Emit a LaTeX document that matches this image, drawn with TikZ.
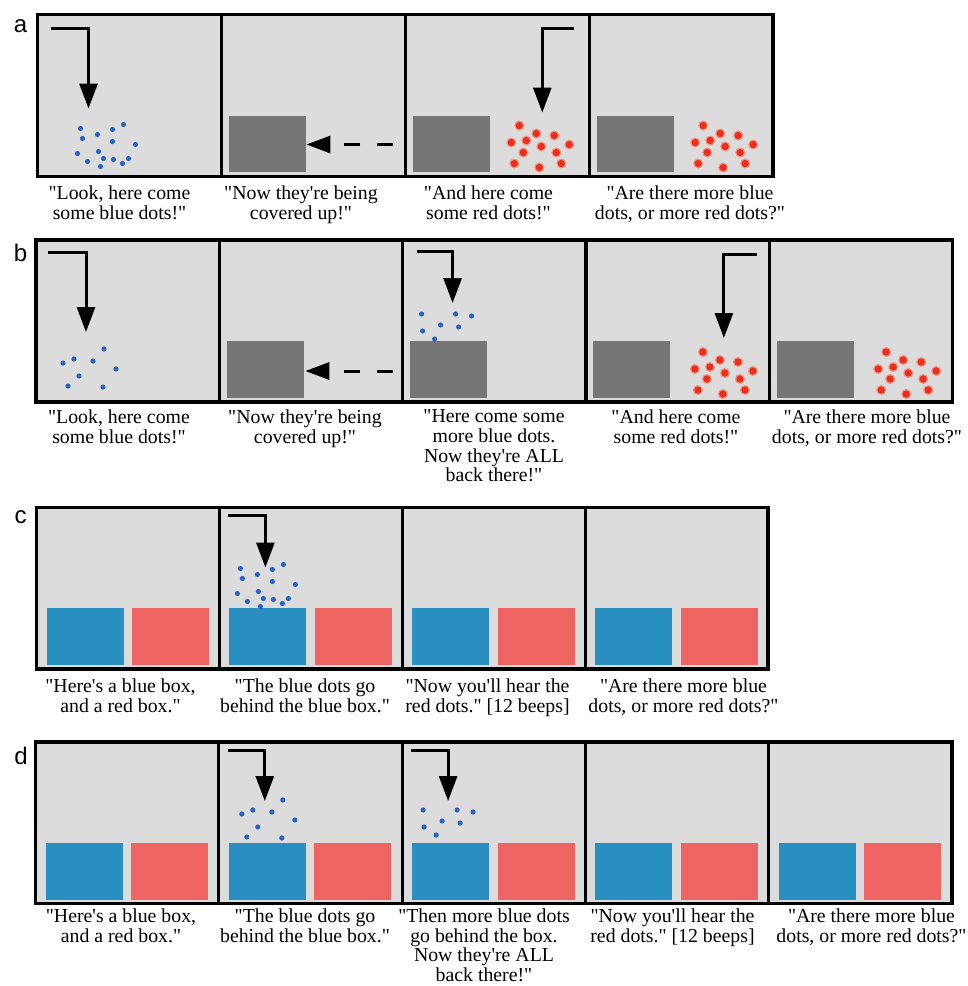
\documentclass[tikz,border=0pt]{standalone}
\usepackage{fontspec}
\setmainfont{Liberation Serif}[Ligatures=TeXOff]
\newfontfamily\labfont{Liberation Sans}
\usetikzlibrary{arrows.meta}
\definecolor{panelgrey}{HTML}{DCDCDC}
\definecolor{coverbox}{HTML}{767676}
\definecolor{bluebox}{HTML}{288FC0}
\definecolor{redbox}{HTML}{EE6462}
\definecolor{bluedot}{HTML}{2A62C2}
\definecolor{reddot}{HTML}{EC2C1C}
\definecolor{redhalo}{HTML}{F2907E}
\tikzset{
  frame/.style={draw=black, line width=3.5pt},
  divider/.style={black, line width=3.2pt},
  cover/.style={fill=coverbox},
  bbox/.style={fill=bluebox},
  rbox/.style={fill=redbox},
  droparrow/.style={line width=3pt, line join=miter, -{Triangle[length=25pt,width=18pt]}},
  slidearrow/.style={line width=3pt, dash pattern=on 16pt off 17pt, -{Triangle[length=24pt,width=17pt]}},
  caption/.style={anchor=north, align=center, inner sep=0pt, font=\fontsize{19.8}{19.7}\selectfont},
  rowlabel/.style={anchor=base, inner sep=0pt, font=\labfont\fontsize{24}{24}\selectfont},
}
\newcommand\bluefifteen[2]{%
  \foreach \u/\v in {43/114,86/110,75/115,45/124,60/120,75/127,98/130,40/139,61/137,66/144,76/145,91/144,85/149,50/147,63/152}
    \fill[bluedot] ({\u+#1},{\v+#2}) circle (2.6pt);}
\newcommand\blueeight[2]{%
  \foreach \u/\v in {68/109,27/123,38/119,57/121,80/129,43/136,32/146,67/147}
    \fill[bluedot] ({\u+#1},{\v+#2}) circle (2.6pt);}
\newcommand\blueseven[2]{%
  \foreach \u/\v in {19/74,53/74,69/76,38/85,56/87,20/91,32/99}
    \fill[bluedot] ({\u+#1},{\v+#2}) circle (2.6pt);}
\newcommand\redtwelve[2]{%
  \foreach \u/\v in {114/111,131/119,149/121,106/128,121/126,136/132,164/130,118/138,151/138,109/149,134/153,156/149}{
    \fill[redhalo] ({\u+#1},{\v+#2}) circle (5pt);
    \fill[reddot] ({\u+#1},{\v+#2}) circle (3.6pt);}}
\newcommand\coverbox{\fill[cover] (7.5,101) rectangle (84.5,157.5);}
\newcommand\twoboxes{\fill[bbox] (10,100.5) rectangle (87,157.5);
  \fill[rbox] (95.5,100.5) rectangle (172.5,157.5);}
\begin{document}
\begin{tikzpicture}[x=1pt,y=-1pt]
\path[use as bounding box, fill=white] (0,0) rectangle (968,986);
% panel backgrounds
\fill[panelgrey] (37.5,14.5) rectangle (773.1,176.5);
\fill[panelgrey] (36,240) rectangle (952.5,402);
\fill[panelgrey] (36.5,507.5) rectangle (768.1,669);
\fill[panelgrey] (35.5,742) rectangle (952,903.5);
% ---------- row a ----------
\begin{scope}[shift={(37.5,14.5)}]
  \bluefifteen{0}{0}
  \draw[droparrow] (13,14) -- (51,14) -- (51,94);
\end{scope}
\begin{scope}[shift={(221.4,14.5)}]
  \coverbox
  \draw[slidearrow] (172,130) -- (85,130);
\end{scope}
\begin{scope}[shift={(405.3,14.5)}]
  \coverbox
  \redtwelve{0}{0}
  \draw[droparrow] (169,14) -- (137,14) -- (137,98);
\end{scope}
\begin{scope}[shift={(589.2,14.5)}]
  \coverbox
  \redtwelve{0}{0}
\end{scope}
% ---------- row b ----------
\begin{scope}[shift={(36,240)}]
  \blueeight{0}{0}
  \draw[droparrow] (12,12) -- (50,12) -- (50,92);
\end{scope}
\begin{scope}[shift={(219.3,240)}]
  \coverbox
  \draw[slidearrow] (174,131) -- (86,131);
\end{scope}
\begin{scope}[shift={(402.6,240)}]
  \coverbox
  \blueseven{0}{0}
  \draw[droparrow] (14,11) -- (50,11) -- (50,63);
\end{scope}
\begin{scope}[shift={(585.9,240)}]
  \coverbox
  \redtwelve{3}{1}
  \draw[droparrow] (171,14) -- (138,14) -- (138,98);
\end{scope}
\begin{scope}[shift={(769.2,240)}]
  \coverbox
  \redtwelve{3}{1}
\end{scope}
% ---------- row c ----------
\begin{scope}[shift={(36.5,507.5)}]
  \twoboxes
\end{scope}
\begin{scope}[shift={(219.4,507.5)}]
  \twoboxes
  \bluefifteen{-22}{-53}
  \draw[droparrow] (9,8) -- (46,8) -- (46,60);
\end{scope}
\begin{scope}[shift={(402.3,507.5)}]
  \twoboxes
\end{scope}
\begin{scope}[shift={(585.2,507.5)}]
  \twoboxes
\end{scope}
% ---------- row d ----------
\begin{scope}[shift={(35.5,742)}]
  \twoboxes
\end{scope}
\begin{scope}[shift={(218.8,742)}]
  \twoboxes
  \blueeight{-4}{-51}
  \draw[droparrow] (9,8) -- (46,8) -- (46,59);
\end{scope}
\begin{scope}[shift={(402.1,742)}]
  \twoboxes
  \blueseven{2}{-6}
  \draw[droparrow] (9,8) -- (46,8) -- (46,59);
\end{scope}
\begin{scope}[shift={(585.4,742)}]
  \twoboxes
\end{scope}
\begin{scope}[shift={(768.7,742)}]
  \twoboxes
\end{scope}
% ---------- frames ----------
\draw[frame] (37.5,14.5) rectangle (773.1,176.5);
\foreach \d in {221.4,405.3,589.2} \draw[divider] (\d,14.5) -- (\d,176.5);
\draw[frame] (36,240) rectangle (952.5,402);
\foreach \d in {219.3,402.6,585.9,769.2} \draw[divider] (\d,240) -- (\d,402);
\draw[frame] (36.5,507.5) rectangle (768.1,669);
\foreach \d in {219.4,402.3,585.2} \draw[divider] (\d,507.5) -- (\d,669);
\draw[frame] (35.5,742) rectangle (952,903.5);
\foreach \d in {218.8,402.1,585.4,768.7} \draw[divider] (\d,742) -- (\d,903.5);
% ---------- row labels ----------
\node[rowlabel] (laba) at (20.5,32) {a};
\node[rowlabel] (labb) at (20.5,261) {b};
\node[rowlabel] (labc) at (20.5,523) {c};
\node[rowlabel] (labd) at (21,764) {d};
% ---------- captions ----------
\node[caption] (capa1) at (119.5,185.5) {"Look, here come\\some blue dots!"};
\node[caption] (capa2) at (301,185.5) {"Now they're being\\covered up!"};
\node[caption] (capa3) at (488.5,185.5) {"And here come\\some red dots!"};
\node[caption] (capa4) at (690,185.5) {"Are there more blue\\dots, or more red dots?"};
\node[caption] (capb1) at (119,409.5) {"Look, here come\\some blue dots!"};
\node[caption] (capb2) at (305,409.5) {"Now they're being\\covered up!"};
\node[caption] (capb3) at (494,409.5) {"Here come some\\more blue dots.\\Now they're ALL\\back there!"};
\node[caption] (capb4) at (676,409.5) {"And here come\\some red dots!"};
\node[caption] (capb5) at (867,409.5) {"Are there more blue\\dots, or more red dots?"};
\node[caption] (capc1) at (120.5,678.5) {"Here's a blue box,\\and a red box."};
\node[caption] (capc2) at (305,678.5) {"The blue dots go\\behind the blue box."};
\node[caption] (capc3) at (487.5,678.5) {"Now you'll hear the\\red dots." [12 beeps]};
\node[caption] (capc4) at (683.5,678.5) {"Are there more blue\\dots, or more red dots?"};
\node[caption] (capd1) at (121,908.5) {"Here's a blue box,\\and a red box."};
\node[caption] (capd2) at (305,908.5) {"The blue dots go\\behind the blue box."};
\node[caption] (capd3) at (484,908.5) {"Then more blue dots\\go behind the box.\\Now they're ALL\\back there!"};
\node[caption] (capd4) at (672.5,908.5) {"Now you'll hear the\\red dots." [12 beeps]};
\node[caption] (capd5) at (871.5,908.5) {"Are there more blue\\dots, or more red dots?"};
\end{tikzpicture}
\end{document}
